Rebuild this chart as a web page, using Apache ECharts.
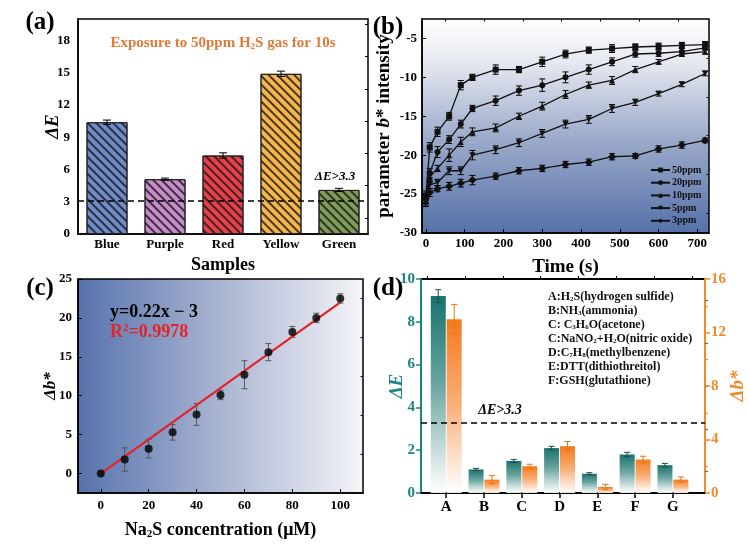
<!DOCTYPE html>
<html>
<head>
<meta charset="utf-8">
<script src="https://cdn.jsdelivr.net/npm/echarts@6/dist/echarts.min.js"></script>
<style>
html,body{margin:0;padding:0;background:#fff;}
#c{width:749px;height:544px;}
</style>
</head>
<body>
<div id="c"></div>
<script>
// ---------- DATA ----------
// (a)
const catA = ['Blue', 'Purple', 'Red', 'Yellow', 'Green'];
const valA = [10.4, 5.1, 7.3, 14.9, 4.1];
const errA = [0.2, 0.1, 0.25, 0.25, 0.15];
const thrA = 3.1;
const yTicksA = [0, 3, 6, 9, 12, 15, 18];
const yMinorA = [1.5, 4.5, 7.5, 10.5, 13.5, 16.5, 19.5];

// (b)
const timeB = [0, 10, 30, 60, 90, 120, 180, 240, 300, 360, 420, 480, 540, 600, 660, 720];
const b50 = [-25.2, -19.0, -17.0, -15.0, -11.0, -10.0, -9.0, -9.0, -8.0, -7.0, -6.5, -6.3, -6.1, -6.0, -5.9, -5.8];
const b20 = [-25.6, -22.3, -19.6, -18.0, -16.0, -14.0, -13.0, -11.7, -11.0, -10.0, -9.0, -8.0, -7.0, -6.9, -6.7, -6.2];
const b10 = [-25.8, -22.8, -21.7, -20.0, -18.3, -17.0, -16.5, -15.0, -13.7, -12.2, -11.0, -10.4, -9.0, -8.0, -7.0, -6.7];
const b5  = [-26.0, -23.8, -23.5, -22.0, -22.0, -20.0, -19.3, -18.4, -17.2, -16.0, -15.4, -14.0, -13.2, -12.1, -10.9, -9.5];
const b3  = [-25.5, -24.8, -24.3, -24.0, -23.6, -23.2, -22.7, -22.0, -21.7, -21.2, -20.9, -20.2, -20.1, -19.2, -18.7, -18.1];
const e50 = [0.6, 0.6, 0.6, 0.5, 0.6, 0.4, 0.6, 0.4, 0.6, 0.5, 0.4, 0.5, 0.4, 0.4, 0.4, 0.4];
const e20 = [0.6, 0.6, 0.7, 0.5, 0.5, 0.4, 0.6, 0.6, 0.8, 0.7, 0.6, 0.5, 0.4, 0.4, 0.4, 0.3];
const e10 = [0.6, 0.6, 0.4, 0.8, 0.6, 0.5, 0.5, 0.4, 0.5, 0.5, 0.4, 0.5, 0.4, 0.3, 0.3, 0.3];
const e5  = [0.6, 0.5, 0.4, 0.5, 0.5, 0.6, 0.5, 0.5, 0.5, 0.5, 0.5, 0.5, 0.4, 0.3, 0.3, 0.3];
const e3  = [0.6, 0.5, 0.4, 0.5, 0.5, 0.6, 0.4, 0.4, 0.4, 0.4, 0.4, 0.4, 0.3, 0.4, 0.4, 0.3];
const namesB = ['50ppm', '20ppm', '10ppm', '5ppm', '3ppm'];
const xTicksB = [0, 100, 200, 300, 400, 500, 600, 700];
const xMinorB = [50, 150, 250, 350, 450, 550, 650];
const yTicksB = [-30, -25, -20, -15, -10, -5];
const yMinorB = [-27.5, -22.5, -17.5, -12.5, -7.5];

// (c)
const concC = [0, 10, 20, 30, 40, 50, 60, 70, 80, 90, 100];
const valC = [0, 1.8, 3.2, 5.3, 7.6, 10.1, 12.7, 15.6, 18.2, 20.0, 22.5];
const errC = [0.1, 1.5, 1.2, 1.0, 1.4, 0.6, 1.8, 1.1, 0.7, 0.6, 0.6];
const fitX = [0, 100];
const fitY = [0, 22.0];
const xTicksC = [0, 20, 40, 60, 80, 100];
const yTicksC = [0, 5, 10, 15, 20, 25];
const yMinorC = [-2.5, 2.5, 7.5, 12.5, 17.5, 22.5];

// (d)
const catD = ['A', 'B', 'C', 'D', 'E', 'F', 'G'];
const dE = [9.2, 1.1, 1.5, 2.1, 0.9, 1.8, 1.3];
const dEerr = [0.3, 0.05, 0.07, 0.08, 0.05, 0.1, 0.08];
const db = [13.0, 1.0, 2.0, 3.5, 0.45, 2.5, 1.0];
const dbErr = [1.1, 0.3, 0.15, 0.35, 0.2, 0.25, 0.2];
const thrD = 3.3;
const yTicksDL = [0, 2, 4, 6, 8, 10];
const yMinorDL = [1, 3, 5, 7, 9];
const yTicksDR = [0, 4, 8, 12, 16];
const yMinorDR = [2, 6, 10, 14];
const legendD = [
  ['A:H', '2', 'S(hydrogen sulfide)'],
  ['B:NH', '3', '(ammonia)'],
  ['C: C', '3', 'H', '6', 'O(acetone)'],
  ['C:NaNO', '2', '+H', '2', 'O(nitric oxide)'],
  ['D:C', '7', 'H', '8', '(methylbenzene)'],
  ['E:DTT(dithiothreitol)'],
  ['F:GSH(glutathione)']
];

// ---------- STYLE ----------
const F = "'Liberation Serif','Times New Roman',serif";
const TEAL = '#1d8580';
const ORANGE = '#f08a2a';
const zip = (a, b) => a.map((v, i) => [v, b[i]]);
const zip3 = (a, b, c) => a.map((v, i) => [v, b[i], c[i]]);
const idxD = catD.map((_, i) => i);

function errSeries(xi, yi, data, opt) {
  const color = opt.color || '#000';
  const cap = opt.cap || 3;
  const off = opt.off || 0;
  const lw = opt.lw || 1;
  return {
    type: 'custom', xAxisIndex: xi, yAxisIndex: yi, data: data, z: opt.z || 5, silent: true,
    renderItem: function (params, api) {
      const x = api.value(0), y = api.value(1), e = api.value(2);
      const t = api.coord([x, y + e]);
      const b = api.coord([x, y - e]);
      const cx = t[0] + off;
      const st = { stroke: color, lineWidth: lw };
      return {
        type: 'group', children: [
          { type: 'line', shape: { x1: cx, y1: t[1], x2: cx, y2: b[1] }, style: st },
          { type: 'line', shape: { x1: cx - cap, y1: t[1], x2: cx + cap, y2: t[1] }, style: st },
          { type: 'line', shape: { x1: cx - cap, y1: b[1], x2: cx + cap, y2: b[1] }, style: st }
        ]
      };
    }
  };
}

function minorAxis(gridIndex, min, max, values, inside, len, extra) {
  return Object.assign({
    type: 'value', gridIndex: gridIndex, min: min, max: max,
    axisLine: { show: false, onZero: false }, axisLabel: { show: false }, splitLine: { show: false },
    axisTick: { show: true, inside: inside, length: len, customValues: values, lineStyle: { color: '#000', width: 1 } }
  }, extra || {});
}

const lblStyle = { fontFamily: F, fontWeight: 'bold', fontSize: 13, color: '#000' };

const colA = ['#6f8cc8', '#c98bcb', '#e8404a', '#f6b64c', '#7f9c58'];

const gradB = { type: 'linear', x: 0, y: 0, x2: 0, y2: 1, colorStops: [
  { offset: 0, color: '#ffffff' }, { offset: 0.2, color: '#e6e9f0' }, { offset: 0.55, color: '#9eaccb' }, { offset: 1, color: '#5570a8' }] };
const gradC = { type: 'linear', x: 0, y: 0, x2: 1, y2: 0, colorStops: [
  { offset: 0, color: '#5672ad' }, { offset: 0.5, color: '#aab5d2' }, { offset: 1, color: '#f5f5f8' }] };

const symB = ['rect', 'circle', 'triangle', 'triangle', 'diamond'];
const rotB = [0, 0, 0, 180, 0];
const valsB = [b50, b20, b10, b5, b3];
const errsB = [e50, e20, e10, e5, e3];

const series = [];
// (a)
series.push({
  type: 'bar', xAxisIndex: 0, yAxisIndex: 0, barWidth: 41,
  data: valA.map((v, i) => ({
    value: v,
    itemStyle: {
      color: colA[i], borderColor: '#222', borderWidth: 1,
      decal: { symbol: 'rect', symbolSize: 1, dashArrayX: [[1, 0]], dashArrayY: [1.1, 3.2], rotation: Math.PI / 4, color: 'rgba(25,25,25,0.8)' }
    }
  })),
  markLine: { silent: true, symbol: 'none', label: { show: false }, lineStyle: { color: '#000', type: [6, 4], width: 1.5 }, data: [{ yAxis: thrA }] }
});
series.push(errSeries(0, 0, zip3(catA.map((_, i) => i), valA, errA), { cap: 4, z: 6 }));

// (b)
namesB.forEach((n, k) => {
  series.push(errSeries(1, 2, zip3(timeB, valsB[k], errsB[k]), { cap: 3, z: 4 }));
  series.push({
    type: 'line', name: n, xAxisIndex: 1, yAxisIndex: 2, data: zip(timeB, valsB[k]),
    symbol: symB[k], symbolRotate: rotB[k], symbolSize: k === 4 ? 8 : 6,
    lineStyle: { color: '#111', width: 1.3 }, itemStyle: { color: '#111' }, z: 5
  });
});

// (c)
series.push(errSeries(3, 4, zip3(concC, valC, errC), { color: '#555', cap: 3, z: 4 }));
series.push({ type: 'line', xAxisIndex: 3, yAxisIndex: 4, data: zip(fitX, fitY), symbol: 'none', lineStyle: { color: '#e2232a', width: 2.2 }, z: 5 });
series.push({ type: 'scatter', xAxisIndex: 3, yAxisIndex: 4, data: zip(concC, valC), symbolSize: 8, itemStyle: { color: '#000' }, z: 6 });

// (d)
series.push({
  type: 'bar', xAxisIndex: 5, yAxisIndex: 6, data: zip(idxD, dE), barWidth: 15, barGap: '6%',
  itemStyle: { color: { type: 'linear', x: 0, y: 0, x2: 0, y2: 1, colorStops: [{ offset: 0, color: '#1a736d' }, { offset: 0.45, color: '#6aa5a0' }, { offset: 1, color: 'rgba(255,255,255,0.9)' }] } },
  markLine: { silent: true, symbol: 'none', label: { show: false }, lineStyle: { color: '#000', type: [6, 4], width: 1.5 }, data: [{ yAxis: thrD }] }
});
series.push({
  type: 'bar', xAxisIndex: 5, yAxisIndex: 8, data: zip(idxD, db), barWidth: 15, barGap: '6%',
  itemStyle: { color: { type: 'linear', x: 0, y: 0, x2: 0, y2: 1, colorStops: [{ offset: 0, color: '#f57a1c' }, { offset: 0.5, color: '#f9b07a' }, { offset: 1, color: 'rgba(255,255,255,0.9)' }] } }
});
series.push(errSeries(5, 6, zip3(idxD, dE, dEerr), { color: '#1a4f4b', cap: 3, off: -8, z: 6 }));
series.push(errSeries(5, 8, zip3(idxD, db, dbErr), { color: '#e8741a', cap: 3, off: 8, z: 6 }));

// ---------- graphic texts ----------
const graphic = [];
function txt(x, y, text, extra, rich) {
  graphic.push({ type: 'text', x: x, y: y, z: 100, style: Object.assign({ text: text, fontFamily: F, fontWeight: 'bold', fontSize: 13, fill: '#000', textAlign: 'left', textVerticalAlign: 'middle', rich: rich }, extra || {}) });
}
txt(40, 23, '(a)', { fontSize: 25, textAlign: 'center' });
txt(388, 28, '(b)', { fontSize: 25, textAlign: 'center' });
txt(40, 289, '(c)', { fontSize: 25, textAlign: 'center' });
txt(388, 289, '(d)', { fontSize: 25, textAlign: 'center' });

const subRich = (size, color) => ({
  n: { fontFamily: F, fontWeight: 'bold', fontSize: size, fill: color, color: color },
  s: { fontFamily: F, fontWeight: 'bold', fontSize: Math.round(size * 0.62), fill: color, color: color, verticalAlign: 'bottom', padding: [Math.round(size * 0.45), 0, 0, 0] }
});
txt(223, 43, '{n|Exposure to 50ppm H}{s|2}{n|S gas for 10s}', { textAlign: 'center', fill: '#e07a38' }, subRich(15, '#e07a38'));
txt(335, 177, 'ΔE>3.3', { textAlign: 'center', fontStyle: 'italic', fontSize: 13 });
txt(110, 312, 'y=0.22x − 3', { fontSize: 18 });
txt(110, 332, '{n|R}{p|2}{n|=0.9978}', { fill: '#e2232a' }, {
  n: { fontFamily: F, fontWeight: 'bold', fontSize: 18, fill: '#e2232a' },
  p: { fontFamily: F, fontWeight: 'bold', fontSize: 11, fill: '#e2232a', verticalAlign: 'top' }
});
txt(500, 410, 'ΔE>3.3', { textAlign: 'center', fontStyle: 'italic', fontSize: 14 });
legendD.forEach((parts, i) => {
  const s = parts.map((p, j) => (j % 2 === 0 ? '{n|' + p + '}' : '{s|' + p + '}')).join('');
  txt(548, 297 + i * 14, s, {}, subRich(12, '#111'));
});

const axLine = (color, width) => ({ show: true, onZero: false, lineStyle: { color: color, width: width } });

// ---------- OPTION ----------
const option = {
  animation: false,
  backgroundColor: '#fff',
  textStyle: { fontFamily: F },
  grid: [
    { left: 78, top: 19, width: 290, height: 215, show: true, borderColor: '#000', borderWidth: 1.5, backgroundColor: '#fff' },
    { left: 422, top: 19, width: 287, height: 214, show: true, borderColor: '#000', borderWidth: 1.5, backgroundColor: gradB },
    { left: 78, top: 279, width: 285, height: 214, show: true, borderColor: '#000', borderWidth: 1.5, backgroundColor: gradC },
    { left: 421, top: 279, width: 292, height: 214, show: true, borderColor: '#000', borderWidth: 2, backgroundColor: '#fff' }
  ],
  legend: {
    data: namesB, orient: 'vertical', left: 645, top: 160, itemWidth: 19, itemHeight: 6, itemGap: 2.7,
    textStyle: { fontFamily: F, fontWeight: 'bold', fontSize: 10, color: '#111', padding: [0, 0, 0, -3] },
    inactiveColor: '#111'
  },
  xAxis: [
    { type: 'category', gridIndex: 0, data: catA, axisLine: axLine('#000', 1.5), axisTick: { show: false },
      axisLabel: Object.assign({ margin: 4 }, lblStyle), name: 'Samples', nameLocation: 'middle', nameGap: 22, nameMoveOverlap: false,
      nameTextStyle: { fontFamily: F, fontWeight: 'bold', fontSize: 18, color: '#000' } },
    { type: 'value', gridIndex: 1, min: -10, max: 730, splitLine: { show: false },
      axisLine: axLine('#000', 1.5),
      axisTick: { inside: true, length: 4, customValues: xTicksB, lineStyle: { color: '#000' } },
      axisLabel: Object.assign({ margin: 4, customValues: xTicksB }, lblStyle),
      name: 'Time (s)', nameLocation: 'middle', nameGap: 25, nameMoveOverlap: false,
      nameTextStyle: { fontFamily: F, fontWeight: 'bold', fontSize: 19, color: '#000' } },
    minorAxis(1, -10, 730, xMinorB, true, 2.5),
    { type: 'value', gridIndex: 2, min: -9.5, max: 109.5, splitLine: { show: false },
      axisLine: axLine('#000', 1.5),
      axisTick: { inside: true, length: 4, customValues: xTicksC, lineStyle: { color: '#000' } },
      axisLabel: Object.assign({ margin: 6, customValues: xTicksC }, lblStyle),
      name: '{n|Na}{s|2}{n|S concentration (μM)}', nameLocation: 'middle', nameGap: 28, nameMoveOverlap: false,
      nameTextStyle: { rich: subRich(18, '#000') } },
    { type: 'value', gridIndex: 3, min: -0.668, max: 6.85, splitLine: { show: false },
      axisLine: axLine('#000', 2),
      axisTick: { inside: false, length: 5, customValues: idxD, lineStyle: { color: '#000', width: 1.5 } },
      axisLabel: Object.assign({}, lblStyle, { margin: 7, fontSize: 15, customValues: idxD, formatter: v => catD[Math.round(v)] }) },
    minorAxis(3, -0.668, 6.85, [-0.5, 0.5, 1.5, 2.5, 3.5, 4.5, 5.5, 6.5], false, 3)
  ],
  yAxis: [
    { type: 'value', gridIndex: 0, min: 0, max: 20, splitLine: { show: false },
      axisLine: axLine('#000', 1.5),
      axisTick: { inside: true, length: 5, customValues: yTicksA, lineStyle: { color: '#000' } },
      axisLabel: Object.assign({ margin: 8, customValues: yTicksA }, lblStyle),
      name: 'ΔE', nameLocation: 'middle', nameGap: 15, nameMoveOverlap: false,
      nameTextStyle: { fontFamily: F, fontWeight: 'bold', fontStyle: 'italic', fontSize: 19, color: '#000' } },
    minorAxis(0, 0, 20, yMinorA, true, 3),
    { type: 'value', gridIndex: 1, min: -30, max: -2.5, splitLine: { show: false },
      axisLine: axLine('#000', 1.5),
      axisTick: { inside: true, length: 4, customValues: yTicksB, lineStyle: { color: '#000' } },
      axisLabel: Object.assign({ margin: 5, customValues: yTicksB }, lblStyle),
      name: '{n|parameter }{i|b}{n|* intensity}', nameLocation: 'middle', nameGap: 28, nameMoveOverlap: false,
      nameTextStyle: { rich: {
        n: { fontFamily: F, fontWeight: 'bold', fontSize: 19, color: '#000' },
        i: { fontFamily: F, fontWeight: 'bold', fontStyle: 'italic', fontSize: 19, color: '#000' } } } },
    minorAxis(1, -30, -2.5, yMinorB, true, 2.5),
    { type: 'value', gridIndex: 2, min: -2.5, max: 25, splitLine: { show: false },
      axisLine: axLine('#000', 1.5),
      axisTick: { inside: true, length: 4, customValues: yTicksC, lineStyle: { color: '#000' } },
      axisLabel: Object.assign({ margin: 6, customValues: yTicksC }, lblStyle),
      name: 'Δb*', nameLocation: 'middle', nameGap: 19, nameMoveOverlap: false,
      nameTextStyle: { fontFamily: F, fontWeight: 'bold', fontStyle: 'italic', fontSize: 17, color: '#000' } },
    minorAxis(2, -2.5, 25, yMinorC, true, 2.5),
    { type: 'value', gridIndex: 3, min: 0, max: 10, splitLine: { show: false },
      axisLine: axLine(TEAL, 2),
      axisTick: { inside: false, length: 5, customValues: yTicksDL, lineStyle: { color: TEAL, width: 1.5 } },
      axisLabel: { margin: 6, customValues: yTicksDL, fontFamily: F, fontWeight: 'bold', fontSize: 15, color: TEAL },
      name: 'ΔE', nameLocation: 'middle', nameGap: 14, nameMoveOverlap: false,
      nameTextStyle: { fontFamily: F, fontWeight: 'bold', fontStyle: 'italic', fontSize: 19, color: TEAL } },
    minorAxis(3, 0, 10, yMinorDL, false, 3, { axisTick: { show: true, inside: false, length: 3, customValues: yMinorDL, lineStyle: { color: TEAL, width: 1.2 } } }),
    { type: 'value', gridIndex: 3, position: 'right', min: 0, max: 16, splitLine: { show: false },
      axisLine: axLine(ORANGE, 2),
      axisTick: { inside: false, length: 5, customValues: yTicksDR, lineStyle: { color: ORANGE, width: 1.5 } },
      axisLabel: { margin: 6, customValues: yTicksDR, fontFamily: F, fontWeight: 'bold', fontSize: 15, color: ORANGE },
      name: 'Δb*', nameLocation: 'middle', nameGap: 24, nameRotate: 90, nameMoveOverlap: false,
      nameTextStyle: { fontFamily: F, fontWeight: 'bold', fontStyle: 'italic', fontSize: 19, color: ORANGE } },
    minorAxis(3, 0, 16, yMinorDR, false, 3, { position: 'right', axisTick: { show: true, inside: false, length: 3, customValues: yMinorDR, lineStyle: { color: ORANGE, width: 1.2 } } })
  ],
  series: series,
  graphic: graphic
};

const chart = echarts.init(document.getElementById('c'), null, { renderer: 'canvas' });
chart.setOption(option);
</script>
</body>
</html>
